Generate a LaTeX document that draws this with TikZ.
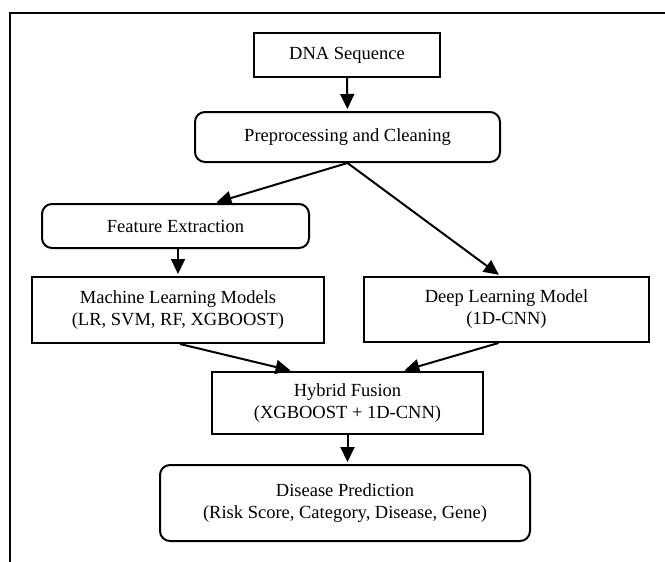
\documentclass[tikz,border=0pt]{standalone}
\usepackage{fontspec}
\setmainfont{Liberation Serif}
\usetikzlibrary{arrows.meta,calc}
\tikzset{
  box/.style={draw=black, line width=2pt, fill=white, inner sep=0pt, align=center,
    font=\fontsize{18.5}{22}\selectfont},
  rbox/.style={box, rounded corners=10pt},
  conn/.style={line width=2pt, shorten >=2pt, -{Triangle[length=15pt,width=14pt]}},
}
\begin{document}
\begin{tikzpicture}[x=1pt,y=-1pt]
\useasboundingbox (0,0) rectangle (665,562);
\draw[line width=2pt] (10,562) -- (10,13) -- (665,13);

\node[box, minimum width=186pt, minimum height=44pt] (dna) at (347,55) {DNA Sequence};
\node[rbox, minimum width=305pt, minimum height=50pt] (prep) at (347.5,137) {Preprocessing and Cleaning};
\node[rbox, minimum width=267pt, minimum height=44pt] (feat) at (175.5,226) {Feature Extraction};
\node[box, minimum width=292pt, minimum height=66pt] (ml) at (178,310) {Machine Learning Models\\(LR, SVM, RF, XGBOOST)};
\node[box, minimum width=285pt, minimum height=65pt] (dl) at (506.5,309.5) {Deep Learning Model\\(1D-CNN)};
\node[box, minimum width=271pt, minimum height=62pt] (hyb) at (347.5,403) {Hybrid Fusion\\(XGBOOST + 1D-CNN)};
\node[rbox, minimum width=370pt, minimum height=76pt] (dis) at (345,503) {Disease Prediction\\(Risk Score, Category, Disease, Gene)};

\draw[conn] (dna.south) -- (prep.north);
\draw[conn] (prep.south) -- ($(feat.north)+(39,0)$);
\draw[conn] (prep.south) -- ($(dl.north)+(-6,0)$);
\draw[conn] (feat.south -| ml.north) -- (ml.north);
\draw[conn] ($(ml.south)+(2,0)$) -- ($(hyb.north)+(-55,0)$);
\draw[conn] ($(dl.south)+(-8,0)$) -- ($(hyb.north)+(55,0)$);
\draw[conn] (hyb.south) -- (hyb.south |- dis.north);
\end{tikzpicture}
\end{document}
